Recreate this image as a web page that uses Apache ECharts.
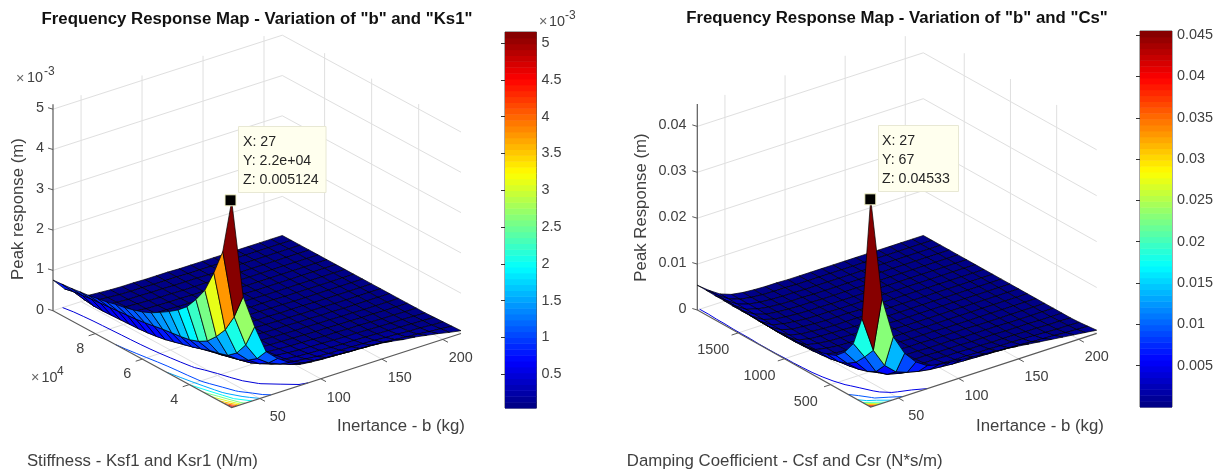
<!DOCTYPE html>
<html><head><meta charset="utf-8">
<style>html,body{margin:0;padding:0;background:#fff}#c{width:1217px;height:470px;filter:blur(0.35px)}</style>
<script src="https://cdn.jsdelivr.net/npm/echarts@6/dist/echarts.min.js"></script>
</head><body><div id="c"></div>
<script>
const bValues=[27,36.4,45.8,55.2,64.6,74,83.4,92.8,102.2,111.6,121,130.4,139.8,149.2,158.6,168,177.4,186.8,196.2,205.6,215];
const ksValues=[22000,25800,29600,33400,37200,41000,44800,48600,52400,56200,60000,63800,67600,71400,75200,79000,82800,86600,90400,94200,98000];
const csValues=[67,160.8,254.6,348.4,442.2,536,629.8,723.6,817.4,911.2,1005,1098.8,1192.6,1286.4,1380.2,1474,1567.8,1661.6,1755.4,1849.2,1943];
// Peak response, units of 1e-3 m; rows follow bValues, columns follow ksValues
const zKs=[
[5.124,3.75,3.1,2.55,2.2,1.9,1.7,1.54,1.4,1.27,1.17,1.1,1.04,1.0,.94,.9,.86,.83,.8,.78,.76],
[2.66,2.04,1.6,1.31,1.08,.95,.87,.83,.8,.77,.73,.69,.66,.64,.62,.6,.58,.56,.53,.5,.45],
[1.82,1.25,.93,.75,.68,.63,.55,.48,.42,.36,.30,.26,.23,.21,.20,.19,.18,.17,.17,.2,.28],
[1.11,.82,.66,.55,.49,.43,.38,.34,.30,.27,.25,.22,.20,.18,.16,.14,.12,.11,.10,.10,.10],
[.85,.62,.48,.38,.32,.28,.25,.22,.20,.18,.16,.15,.14,.13,.12,.11,.10,.09,.08,.08,.08],
[.66,.50,.38,.30,.25,.21,.18,.16,.14,.13,.12,.11,.10,.09,.08,.08,.07,.07,.06,.06,.06],
[.52,.40,.31,.24,.20,.17,.15,.13,.12,.11,.10,.09,.08,.08,.07,.07,.06,.06,.06,.05,.05],
[.49,.34,.26,.20,.17,.14,.12,.11,.10,.09,.08,.07,.07,.06,.06,.06,.05,.05,.05,.05,.05],
[.47,.31,.23,.17,.14,.12,.10,.09,.08,.07,.07,.06,.06,.06,.05,.05,.05,.05,.05,.04,.04],
[.46,.29,.20,.15,.12,.10,.09,.08,.07,.07,.06,.06,.05,.05,.05,.05,.04,.04,.04,.04,.04],
[.45,.27,.18,.14,.11,.09,.08,.07,.06,.06,.05,.05,.05,.05,.04,.04,.04,.04,.04,.04,.04],
[.44,.25,.17,.12,.10,.08,.07,.06,.06,.05,.05,.05,.04,.04,.04,.04,.04,.04,.04,.03,.03],
[.42,.24,.16,.11,.09,.07,.06,.06,.05,.05,.04,.04,.04,.04,.04,.04,.03,.03,.03,.03,.03],
[.40,.23,.15,.11,.08,.07,.06,.05,.05,.04,.04,.04,.04,.03,.03,.03,.03,.03,.03,.03,.03],
[.36,.21,.14,.10,.08,.06,.05,.05,.04,.04,.04,.03,.03,.03,.03,.03,.03,.03,.03,.03,.03],
[.31,.19,.12,.09,.07,.06,.05,.04,.04,.04,.03,.03,.03,.03,.03,.03,.03,.03,.03,.03,.03],
[.28,.16,.11,.08,.06,.05,.04,.04,.03,.03,.03,.03,.03,.03,.03,.03,.03,.03,.03,.03,.03],
[.23,.14,.09,.07,.05,.04,.04,.03,.03,.03,.03,.03,.03,.03,.03,.03,.03,.03,.03,.03,.03],
[.18,.11,.08,.06,.05,.04,.03,.03,.03,.03,.03,.03,.03,.03,.03,.03,.03,.03,.03,.03,.03],
[.12,.09,.06,.05,.04,.03,.03,.03,.03,.03,.03,.03,.03,.03,.03,.03,.03,.03,.03,.03,.03],
[.07,.06,.05,.04,.03,.03,.03,.03,.03,.03,.03,.03,.03,.03,.03,.03,.03,.03,.03,.03,.03]];
// Peak response, m; rows follow bValues, columns follow csValues
const zCs=[
[.04533,.0182,.0117,.0088,.0070,.0062,.0057,.0054,.0053,.0052,.0052,.0051,.0051,.0051,.0052,.0052,.0052,.0053,.0053,.0054,.0054],
[.0228,.0105,.0080,.0058,.0045,.0038,.0034,.0032,.0030,.0029,.0028,.0028,.0028,.0029,.0030,.0031,.0032,.0033,.0034,.0035,.0035],
[.0137,.0064,.0040,.0030,.0024,.0020,.0018,.0016,.0015,.0014,.0014,.0014,.0014,.0015,.0015,.0016,.0017,.0017,.0018,.0019,.0019],
[.0093,.0042,.0026,.0019,.0015,.0013,.0011,.0010,.0009,.0009,.0009,.0008,.0008,.0008,.0009,.0009,.0009,.0010,.0010,.0010,.0010],
[.0066,.0033,.0020,.0014,.0011,.0009,.0008,.0007,.0007,.0006,.0006,.0006,.0006,.0006,.0006,.0006,.0006,.0006,.0006,.0006,.0006],
[.0050,.0027,.0016,.0011,.0008,.0007,.0006,.0006,.0005,.0005,.0005,.0005,.0004,.0004,.0004,.0004,.0004,.0004,.0004,.0004,.0004],
[.0044,.0023,.0014,.0009,.0007,.0006,.0005,.0005,.0004,.0004,.0004,.0004,.0003,.0003,.0003,.0003,.0003,.0003,.0003,.0003,.0003],
[.0041,.0021,.0012,.0008,.0006,.0005,.0005,.0004,.0004,.0003,.0003,.0003,.0003,.0003,.0003,.0003,.0003,.0003,.0003,.0003,.0003],
[.0039,.0019,.0011,.0008,.0006,.0005,.0004,.0004,.0003,.0003,.0003,.0003,.0003,.0003,.0002,.0002,.0002,.0002,.0002,.0002,.0002],
[.0037,.0018,.0010,.0007,.0005,.0004,.0004,.0003,.0003,.0003,.0003,.0002,.0002,.0002,.0002,.0002,.0002,.0002,.0002,.0002,.0002],
[.0035,.0017,.0010,.0007,.0005,.0004,.0003,.0003,.0003,.0002,.0002,.0002,.0002,.0002,.0002,.0002,.0002,.0002,.0002,.0002,.0002],
[.0033,.0016,.0009,.0006,.0005,.0004,.0003,.0003,.0002,.0002,.0002,.0002,.0002,.0002,.0002,.0002,.0002,.0002,.0002,.0002,.0002],
[.0031,.0015,.0009,.0006,.0004,.0003,.0003,.0002,.0002,.0002,.0002,.0002,.0002,.0002,.0002,.0002,.0002,.0002,.0002,.0002,.0002],
[.0028,.0014,.0008,.0005,.0004,.0003,.0003,.0002,.0002,.0002,.0002,.0002,.0002,.0002,.0002,.0002,.0002,.0002,.0002,.0002,.0002],
[.0025,.0013,.0008,.0005,.0004,.0003,.0002,.0002,.0002,.0002,.0002,.0002,.0002,.0002,.0002,.0002,.0002,.0002,.0002,.0002,.0002],
[.0022,.0011,.0007,.0005,.0003,.0003,.0002,.0002,.0002,.0002,.0002,.0002,.0002,.0002,.0002,.0002,.0002,.0002,.0002,.0002,.0002],
[.0019,.0010,.0006,.0004,.0003,.0002,.0002,.0002,.0002,.0002,.0002,.0002,.0002,.0002,.0002,.0002,.0002,.0002,.0002,.0002,.0002],
[.0016,.0009,.0005,.0004,.0003,.0002,.0002,.0002,.0002,.0002,.0002,.0002,.0002,.0002,.0002,.0002,.0002,.0002,.0002,.0002,.0002],
[.0013,.0007,.0004,.0003,.0002,.0002,.0002,.0002,.0002,.0002,.0002,.0002,.0002,.0002,.0002,.0002,.0002,.0002,.0002,.0002,.0002],
[.0010,.0006,.0004,.0003,.0002,.0002,.0002,.0002,.0002,.0002,.0002,.0002,.0002,.0002,.0002,.0002,.0002,.0002,.0002,.0002,.0002],
[.0007,.0005,.0003,.0002,.0002,.0002,.0002,.0002,.0002,.0002,.0002,.0002,.0002,.0002,.0002,.0002,.0002,.0002,.0002,.0002,.0002]];
const bTicks=[50,100,150,200];
const bTickLabels=['50','100','150','200'];
const ksTicks=[40000,60000,80000];
const ksTickLabels=['4','6','8'];
const csTicks=[500,1000,1500];
const csTickLabels=['500','1000','1500'];
const zTicksKs=[0,1,2,3,4,5];
const zTickLabelsKs=['0','1','2','3','4','5'];
const zTicksCs=[0,.01,.02,.03,.04];
const zTickLabelsCs=['0','0.01','0.02','0.03','0.04'];
const barTicksKs=[.5,1,1.5,2,2.5,3,3.5,4,4.5,5];
const barTicksCs=[.005,.01,.015,.02,.025,.03,.035,.04,.045];
const contourLevelsKs=[.5,1,1.5,2,2.5,3,3.5,4,4.5,5];
const contourLevelsCs=[.005,.01,.015,.02,.025,.03,.035,.04,.045];
const tipKs=['X: 27','Y: 2.2e+04','Z: 0.005124'];
const tipCs=['X: 27','Y: 67','Z: 0.04533'];

const TXT='#404040',GRID='#dfdfdf',AXIS='#5a5a5a',FONT='"Liberation Sans",Arial,sans-serif';
const plots=[
 {z:zKs,k:ksValues,kT:ksTicks,kL:ksTickLabels,zT:zTicksKs,zL:zTickLabelsKs,lv:contourLevelsKs,tip:tipKs,
  o:[231.7,407.5],bv:[229.3,-74],kv:[-178.7,-96.8],zs:40.3,zTop:5.124,cmin:.03,cmax:5.124,zLabelX:44,zLabelDy:-1,
  kOff:[-15,15],bOff:[18,19],tipBox:[238.5,126.5,87.5,66],tipX:243,tipY:142,mark:[230.5,200.3],
  title:'Frequency Response Map - Variation of "b" and "Ks1"',titleX:257,titleY:19,
  zName:'Peak response (m)',zNameX:18,zNameY:209,bName:[401,426.5],kName:'Stiffness - Ksf1 and Ksr1 (N/m)',kNameP:[142.4,461.5]},
 {z:zCs,k:csValues,kT:csTicks,kL:csTickLabels,zT:zTicksCs,zL:zTickLabelsCs,lv:contourLevelsCs,tip:tipCs,
  o:[870.7,407],bv:[226,-73.6],kv:[-173.4,-97],zs:4590,zTop:.0449,cmin:.0002,cmax:.04533,zLabelX:686.5,zLabelDy:-1,
  kOff:[-25,17],bOff:[18,18],tipBox:[878.5,125.5,80,66],tipX:882,tipY:141,mark:[870.3,199.3],
  title:'Frequency Response Map - Variation of "b" and "Cs"',titleX:897,titleY:18,
  zName:'Peak Response (m)',zNameX:641.7,zNameY:207.5,bName:[1040,426],kName:'Damping Coefficient - Csf and Csr (N*s/m)',kNameP:[784.7,461]}
];
function jet(t){t=Math.max(0,Math.min(.9999,t));const x=(Math.floor(t*64)+.5)/64;
 const c=v=>Math.round(255*Math.max(0,Math.min(1,1.5-Math.abs(4*x-v))));
 return 'rgb('+c(3)+','+c(2)+','+c(1)+')';}

function projector(p){
 const b0=bValues[0],b1=bValues[20],k0=p.k[0],k1=p.k[20];
 return (b,k,z)=>{const u=(b-b0)/(b1-b0),v=(k-k0)/(k1-k0);
  return [p.o[0]+u*p.bv[0]+v*p.kv[0],p.o[1]+u*p.bv[1]+v*p.kv[1]-z*p.zs];};
}
// generic layer: a list of drawn primitives in view units, mapped through the view grid's axes
function layer(name,items,z){
 return {type:'custom',name,xAxisIndex:0,yAxisIndex:0,silent:true,z,clip:false,animation:false,
  data:items.map((_,i)=>[i,i]),
  renderItem:(params,api)=>{
   const it=items[params.dataIndex];
   const C=q=>api.coord(q);
   if(it.t==='poly')return {type:'polygon',shape:{points:it.p.map(C)},style:{fill:it.fill,stroke:it.stroke,lineWidth:it.w||.8}};
   if(it.t==='line')return {type:'polyline',shape:{points:it.p.map(C)},style:{fill:null,stroke:it.stroke,lineWidth:it.w||1}};
   if(it.t==='rect'){const a=C([it.x,it.y]);return {type:'rect',shape:{x:a[0],y:a[1],width:it.wd,height:it.h},style:{fill:it.fill,stroke:it.stroke,lineWidth:it.w||1}};}
   if(it.t==='text'){const a=C([it.x,it.y]);return {type:'text',x:a[0],y:a[1],rotation:it.rot||0,style:{text:it.s,fill:it.fill||TXT,font:it.font||('14.4px '+FONT),align:it.a||'center',verticalAlign:'middle'}};}
  }};
}
function build(p){
 const P=projector(p),nB=bValues.length,nK=p.k.length;
 const bA=bValues[0],bZ=bValues[20],kA=p.k[0],kZ=p.k[20];
 const grid=[],axes=[],texts=[],cont=[],surf=[],top=[];
 const L=(a,c,w)=>({t:'line',p:a,stroke:c,w});
 // wall and floor grid
 p.zT.forEach(z=>{grid.push(L([P(bA,kZ,z),P(bZ,kZ,z),P(bZ,kA,z)],GRID));});
 bTicks.forEach(b=>{grid.push(L([P(b,kA,0),P(b,kZ,0),P(b,kZ,p.zTop)],GRID));});
 p.kT.forEach(k=>{grid.push(L([P(bA,k,0),P(bZ,k,0),P(bZ,k,p.zTop)],GRID));});
 // axes
 axes.push(L([P(bA,kZ,p.zTop),P(bA,kZ,0),P(bA,kA,0),P(bZ,kA,0)],AXIS,1.2));
 const kLen=Math.hypot(p.bv[0],p.bv[1]),bLen=Math.hypot(p.kv[0],p.kv[1]);
 bTicks.forEach((b,i)=>{const a=P(b,kA,0);
  axes.push(L([a,[a[0]-p.kv[0]/bLen*6,a[1]-p.kv[1]/bLen*6]],AXIS));
  texts.push({t:'text',x:a[0]+p.bOff[0],y:a[1]+p.bOff[1],s:bTickLabels[i]});});
 p.kT.forEach((k,i)=>{const a=P(bA,k,0);
  axes.push(L([a,[a[0]-p.bv[0]/kLen*7,a[1]-p.bv[1]/kLen*7]],AXIS));
  texts.push({t:'text',x:a[0]+p.kOff[0],y:a[1]+p.kOff[1],s:p.kL[i]});});
 p.zT.forEach((z,i)=>{const a=P(bA,kZ,z);
  axes.push(L([a,[a[0]-5,a[1]-1.5]],AXIS));
  texts.push({t:'text',x:p.zLabelX,y:a[1]+p.zLabelDy,s:p.zL[i],a:'right'});});
 // floor contours by marching squares on the matrix
 p.lv.forEach(l=>{const col=jet((l-p.cmin)/(p.cmax-p.cmin));
  for(let i=0;i<nB-1;i++)for(let j=0;j<nK-1;j++){
   const c=[[i,j],[i+1,j],[i+1,j+1],[i,j+1]],pts=[];
   for(let e=0;e<4;e++){const a=c[e],d=c[(e+1)%4],za=p.z[a[0]][a[1]],zd=p.z[d[0]][d[1]];
    if((za>=l)!==(zd>=l)){const f=(l-za)/(zd-za);
     pts.push(P(bValues[a[0]]+f*(bValues[d[0]]-bValues[a[0]]),p.k[a[1]]+f*(p.k[d[1]]-p.k[a[1]]),0));}}
   if(pts.length===2)cont.push(L(pts,col,1));
   if(pts.length===4){cont.push(L([pts[0],pts[1]],col,1));cont.push(L([pts[2],pts[3]],col,1));}
  }});
 // surface: far cells first
 for(let i=nB-2;i>=0;i--)for(let j=nK-2;j>=0;j--){
  surf.push({t:'poly',fill:jet((p.z[i][j]-p.cmin)/(p.cmax-p.cmin)),stroke:'#000',w:.7,
   p:[P(bValues[i],p.k[j],p.z[i][j]),P(bValues[i+1],p.k[j],p.z[i+1][j]),P(bValues[i+1],p.k[j+1],p.z[i+1][j+1]),P(bValues[i],p.k[j+1],p.z[i][j+1])]});
 }
 // data tip
 const m=p.mark,tb=p.tipBox;
 top.push({t:'rect',x:tb[0],y:tb[1],wd:tb[2],h:tb[3],fill:'#ffffee',stroke:'#e8e8d4',w:1});
 p.tip.forEach((s,i)=>top.push({t:'text',x:p.tipX,y:p.tipY+i*19,s,a:'left',fill:'#262626',font:'14.2px '+FONT}));
 top.push({t:'rect',x:m[0]-5.5,y:m[1]-5.5,wd:11,h:11,fill:'#000',stroke:'#f4f4c8',w:1});
 // names
 texts.push({t:'text',x:p.bName[0],y:p.bName[1],s:'Inertance - b (kg)',font:'16.8px '+FONT});
 texts.push({t:'text',x:p.kNameP[0],y:p.kNameP[1],s:p.kName,font:'16.8px '+FONT});
 texts.push({t:'text',x:p.zNameX,y:p.zNameY,s:p.zName,font:'16.8px '+FONT,rot:Math.PI/2});
 texts.push({t:'text',x:p.titleX,y:p.titleY,s:p.title,fill:'#111',font:'bold 16.8px '+FONT});
 return [layer('grid',grid,1),layer('contour',cont,2),layer('axes',axes,3),layer('surface',surf,4),layer('labels',texts,5),layer('tip',top,6)];
}
const expo=[
 {t:'text',x:16,y:79,s:'×',a:'left',fill:'#666'},{t:'text',x:27,y:78,s:'10',a:'left'},{t:'text',x:44,y:72,s:'-3',a:'left',font:'12px '+FONT},
 {t:'text',x:31,y:378,s:'×',a:'left',fill:'#666'},{t:'text',x:41.5,y:378,s:'10',a:'left'},{t:'text',x:57,y:371.5,s:'4',a:'left',font:'12px '+FONT},
 {t:'text',x:539,y:22,s:'×',a:'left',fill:'#666'},{t:'text',x:549,y:22,s:'10',a:'left'},{t:'text',x:565,y:16,s:'-3',a:'left',font:'12px '+FONT}
];
function barSeries(idx,p,amin,amax){
 const step=(amax-amin)/64,levels=[];for(let k=0;k<64;k++)levels.push(k);
 return {type:'custom',name:'colorbar'+idx,xAxisIndex:idx,yAxisIndex:idx,silent:true,animation:false,z:1,
  data:levels.map(k=>[0,k]),
  renderItem:(params,api)=>{const k=api.value(1),a=api.coord([0,amin+(k+1)*step]),b=api.coord([1,amin+k*step]);
   return {type:'rect',shape:{x:a[0],y:a[1],width:b[0]-a[0],height:b[1]-a[1]+.5},style:{fill:jet((k+.5)/64)}};}};
}
function barY(idx,min,max,ticks){
 return {type:'value',gridIndex:idx,position:'right',min,max,splitLine:{show:false},
  axisLine:{show:false},
  axisTick:{show:true,inside:true,length:4,customValues:ticks,lineStyle:{color:'#333'}},
  axisLabel:{show:true,inside:false,margin:5,color:TXT,fontFamily:'Liberation Sans',fontSize:14.4,customValues:ticks,formatter:v=>String(+v.toFixed(4))}};
}
const chart=echarts.init(document.getElementById('c'),null,{width:1217,height:470});
chart.setOption({backgroundColor:'#fff',animation:false,
 grid:[{left:0,top:0,width:1217,height:470},
  {left:505,top:32,width:31.5,height:376,show:true,borderColor:'#555',borderWidth:1,backgroundColor:'transparent'},
  {left:1140,top:31,width:32,height:376,show:true,borderColor:'#555',borderWidth:1,backgroundColor:'transparent'}],
 xAxis:[{type:'value',gridIndex:0,min:0,max:1217,show:false},
  {type:'value',gridIndex:1,min:0,max:1,show:false},
  {type:'value',gridIndex:2,min:0,max:1,show:false}],
 yAxis:[{type:'value',gridIndex:0,min:0,max:470,inverse:true,show:false},
  barY(1,.04,5.15,barTicksKs),
  barY(2,0,.0455,barTicksCs)],
 series:[...build(plots[0]),...build(plots[1]),layer('exponents',expo,5),barSeries(1,plots[0],.04,5.15),barSeries(2,plots[1],0,.0455)]
});
</script></body></html>
